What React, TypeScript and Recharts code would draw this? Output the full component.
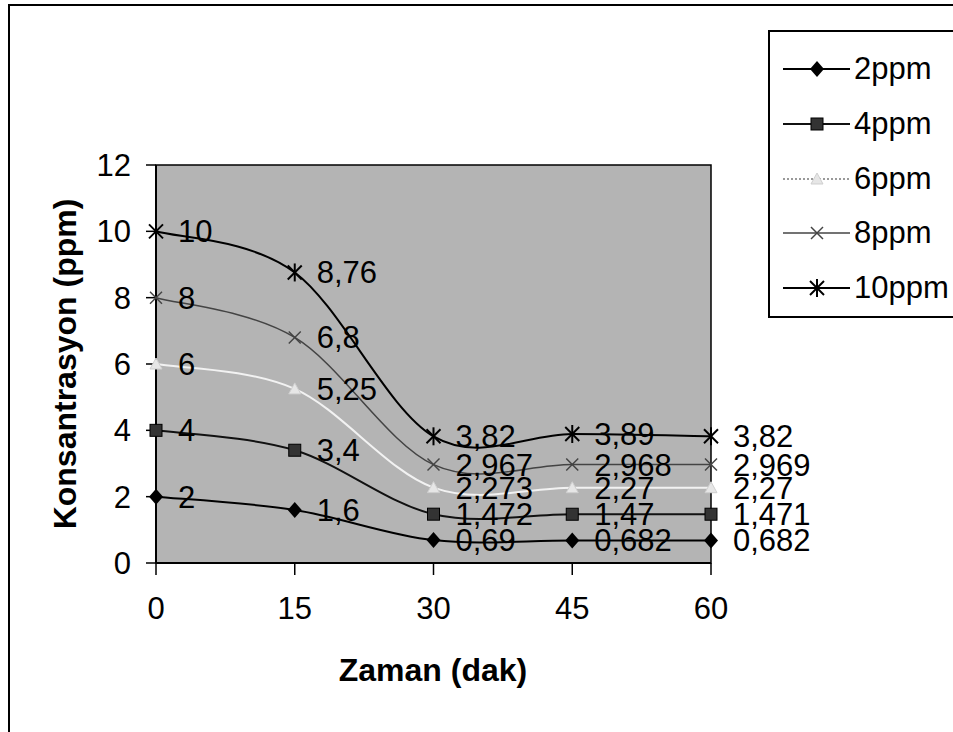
import React from "react";
import { LabelList, Line, LineChart, ReferenceArea, XAxis, YAxis } from "recharts";

const minutes = [0, 15, 30, 45, 60];
const ppm2 = [2, 1.6, 0.69, 0.682, 0.682];
const ppm4 = [4, 3.4, 1.472, 1.47, 1.471];
const ppm6 = [6, 5.25, 2.273, 2.27, 2.27];
const ppm8 = [8, 6.8, 2.967, 2.968, 2.969];
const ppm10 = [10, 8.76, 3.82, 3.89, 3.82];
const xTicks = [0, 15, 30, 45, 60];
const yTicks = [0, 2, 4, 6, 8, 10, 12];

const data = minutes.map((t, i) => ({
  t,
  p2: ppm2[i],
  p4: ppm4[i],
  p6: ppm6[i],
  p8: ppm8[i],
  p10: ppm10[i],
}));

const FONT = "'Liberation Sans', Arial, sans-serif";
const TICK = { fontSize: 31, fill: "#000", fontFamily: FONT };

type Shape = "diamond" | "square" | "triangle" | "cross" | "star";

const SERIES: { key: string; name: string; color: string; width: number; shape: Shape }[] = [
  { key: "p2", name: "2ppm", color: "#000", width: 2, shape: "diamond" },
  { key: "p4", name: "4ppm", color: "#111", width: 2, shape: "square" },
  { key: "p6", name: "6ppm", color: "#f2f2f2", width: 2, shape: "triangle" },
  { key: "p8", name: "8ppm", color: "#444", width: 1.5, shape: "cross" },
  { key: "p10", name: "10ppm", color: "#000", width: 2, shape: "star" },
];

// excel-like smoothed line (catmull-rom through every point)
function smooth(context: any) {
  let pts: number[][] = [];
  return {
    areaStart() {},
    areaEnd() {},
    lineStart() {
      pts = [];
    },
    point(x: number, y: number) {
      pts.push([+x, +y]);
    },
    lineEnd() {
      if (!pts.length) return;
      context.moveTo(pts[0][0], pts[0][1]);
      for (let i = 0; i < pts.length - 1; i++) {
        const p0 = pts[i - 1] || pts[i];
        const p1 = pts[i];
        const p2 = pts[i + 1];
        const p3 = pts[i + 2] || p2;
        context.bezierCurveTo(
          p1[0] + (p2[0] - p0[0]) / 6,
          p1[1] + (p2[1] - p0[1]) / 6,
          p2[0] - (p3[0] - p1[0]) / 6,
          p2[1] - (p3[1] - p1[1]) / 6,
          p2[0],
          p2[1]
        );
      }
    },
  };
}

function Marker({ shape, cx, cy, color }: { shape: Shape; cx: number; cy: number; color: string }) {
  if (shape === "diamond") {
    return <polygon points={`${cx},${cy - 8} ${cx + 7},${cy} ${cx},${cy + 8} ${cx - 7},${cy}`} fill="#000" />;
  }
  if (shape === "square") {
    return <rect x={cx - 6} y={cy - 6} width={12} height={12} fill="#333" stroke="#000" strokeWidth={1} />;
  }
  if (shape === "triangle") {
    return <polygon points={`${cx},${cy - 6} ${cx + 6},${cy + 5} ${cx - 6},${cy + 5}`} fill="#e6e6e6" stroke="#cfcfcf" />;
  }
  if (shape === "cross") {
    return (
      <g stroke={color} strokeWidth={1.5}>
        <line x1={cx - 6} y1={cy - 6} x2={cx + 6} y2={cy + 6} />
        <line x1={cx - 6} y1={cy + 6} x2={cx + 6} y2={cy - 6} />
      </g>
    );
  }
  return (
    <g stroke="#000" strokeWidth={2}>
      <line x1={cx - 7} y1={cy - 7} x2={cx + 7} y2={cy + 7} />
      <line x1={cx - 7} y1={cy + 7} x2={cx + 7} y2={cy - 7} />
      <line x1={cx} y1={cy - 9} x2={cx} y2={cy + 9} />
    </g>
  );
}

const fmt = (v: any) => String(v).replace(".", ",");

function LegendBox() {
  return (
    <div
      style={{
        position: "absolute",
        left: 768,
        top: 30,
        width: 200,
        height: 288,
        border: "2px solid #000",
        background: "#fff",
        fontFamily: FONT,
        fontSize: 31,
        boxSizing: "border-box",
        paddingTop: 10,
      }}
    >
      {SERIES.map((s) => (
        <div key={s.key} style={{ display: "flex", alignItems: "center", height: 54.7 }}>
          <svg width={85} height={30} style={{ marginLeft: 10 }}>
            <line
              x1={3}
              y1={15}
              x2={70}
              y2={15}
              stroke={s.shape === "triangle" ? "#999" : s.color}
              strokeWidth={s.width}
              strokeDasharray={s.shape === "triangle" ? "2 2" : undefined}
            />
            <Marker shape={s.shape} cx={37} cy={15} color={s.color} />
          </svg>
          <span style={{ marginLeft: -11 }}>{s.name}</span>
        </div>
      ))}
    </div>
  );
}

export default function App() {
  return (
    <div style={{ position: "absolute", left: 0, top: 0, width: 953, height: 732, background: "#fff", overflow: "hidden" }}>
      <div
        style={{
          position: "absolute",
          left: 8,
          top: 4,
          width: 970,
          height: 740,
          border: "2px solid #000",
          boxSizing: "border-box",
        }}
      />
      <LineChart width={953} height={732} data={data} margin={{ top: 165, right: 242, left: 56, bottom: 109 }} style={{ position: "absolute", left: 0, top: 0 }}>
        <ReferenceArea x1={0} x2={60} y1={0} y2={12} fill="#b4b4b4" fillOpacity={1} stroke="#000" strokeWidth={1.5} />
        <XAxis
          dataKey="t"
          type="number"
          domain={[0, 60]}
          ticks={xTicks}
          tick={TICK}
          tickSize={12}
          tickMargin={22}
          axisLine={{ stroke: "#000", strokeWidth: 2 }}
          tickLine={{ stroke: "#000", strokeWidth: 1.5 }}
          height={60}
        />
        <YAxis
          type="number"
          domain={[0, 12]}
          ticks={yTicks}
          tick={TICK}
          tickSize={10}
          tickMargin={15}
          axisLine={{ stroke: "#000", strokeWidth: 2 }}
          tickLine={{ stroke: "#000", strokeWidth: 1.5 }}
          width={100}
        />
        {SERIES.map((s) => (
          <Line
            key={s.key}
            dataKey={s.key}
            name={s.name}
            type={smooth as any}
            stroke={s.color}
            strokeWidth={s.width}
            isAnimationActive={false}
            dot={(p: any) => (
              <Marker key={`${s.key}-${p.index}`} shape={s.shape} cx={p.cx} cy={p.cy} color={s.color} />
            )}
            activeDot={false}
          >
            <LabelList dataKey={s.key} position="right" offset={22} formatter={fmt} style={{ ...TICK }} />
          </Line>
        ))}
      </LineChart>
      <div
        style={{
          position: "absolute",
          left: 333,
          top: 652,
          width: 200,
          textAlign: "center",
          fontFamily: FONT,
          fontWeight: "bold",
          fontSize: 32,
        }}
      >
        Zaman (dak)
      </div>
      <div
        style={{
          position: "absolute",
          left: 65 - 200,
          top: 364 - 20,
          width: 400,
          height: 40,
          lineHeight: "40px",
          textAlign: "center",
          fontFamily: FONT,
          fontWeight: "bold",
          fontSize: 32,
          transform: "rotate(-90deg)",
        }}
      >
        Konsantrasyon (ppm)
      </div>
      <LegendBox />
    </div>
  );
}
